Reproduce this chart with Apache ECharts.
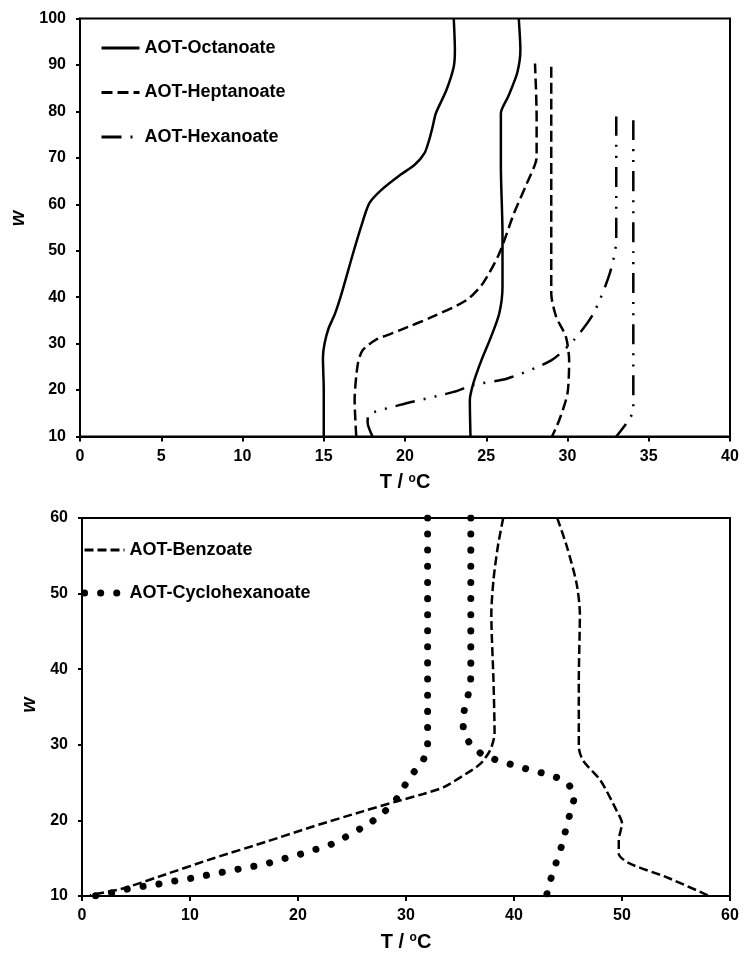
<!DOCTYPE html>
<html>
<head>
<meta charset="utf-8">
<script src="https://cdn.jsdelivr.net/npm/echarts@6/dist/echarts.min.js"></script>
<style>
  html, body { margin: 0; padding: 0; background: #fff; }
  #chart { width: 745px; height: 953px; }
</style>
</head>
<body>
<div id="chart"></div>
<script>
// Phase boundaries, w vs. temperature (T / °C), each compound has two branches.

// Upper panel: linear carboxylates
const octanoateLow = [[15,10],[15,20],[14.95,27],[15.05,30],[15.3,33.3],[15.7,36.5],[16.1,40.8],[16.8,49.4],[17.3,55.2],[17.8,60.2],[18.55,63.1],[19.7,66.3],[20.6,68.5],[21.2,71.0],[21.5,74],[21.7,76.7],[21.9,79.6],[22.55,84.6],[23.0,89.6],[23.07,93.2],[23.0,100]];
const octanoateHigh = [[24.03,10],[23.99,17.8],[24.2,21.4],[24.7,26.4],[25.3,31.5],[25.8,36.5],[26.0,42.2],[26.0,53.7],[25.9,68.1],[25.9,79.6],[26.35,83.2],[26.9,88.2],[27.1,93.2],[27.0,100]];
const heptanoateLow = [[17.0,10],[16.9,17.8],[17.1,25.7],[17.4,28.6],[18.2,30.8],[19.7,32.9],[21.7,35.8],[23.8,39.4],[24.8,43.0],[25.8,49.4],[26.7,58.0],[27.5,64.5],[28.1,70.2],[28.1,78.9],[28.0,90.3]];
const heptanoateHigh = [[29.0,89.6],[29.0,60],[29.0,40.8],[29.3,35.8],[29.9,31.5],[30.1,26.4],[30.0,19.3],[29.5,13.6],[29.05,10]];
const hexanoateLow = [[18.0,10],[17.7,13],[17.75,14.6],[19.7,16.8],[23.0,19.6],[24.2,21.1],[26.3,22.5],[29.0,26.4],[30.4,30.8],[31.6,36.5],[32.6,45.1],[33.0,52.3],[33.0,60.9],[33.0,78.9]];
const hexanoateHigh = [[34.05,78.1],[34.05,50],[34.05,15.7],[33.7,13.2],[33.0,10]];

// Lower panel: cyclic carboxylates
const benzoateLow = [[39.0,60],[38.5,56.2],[38.1,51.8],[37.9,47.3],[38.1,38.5],[38.2,31.5],[37.8,29.3],[36.9,27.5],[35.6,26.2],[33.5,24.4],[31.6,23.5],[29.1,22.5],[26.0,21.2],[21.4,19.2],[17.1,17.2],[12.2,15.0],[7.2,12.6],[3.8,11.0],[0.74,10.1]];
const benzoateHigh = [[44.0,60],[44.9,56.2],[45.8,51.3],[46.1,47.3],[46.0,38.5],[46.0,29.7],[46.4,27.9],[48.0,25.3],[49.5,21.3],[50.0,19.6],[49.7,17.4],[49.7,15.6],[50.7,14.3],[54.1,12.5],[58.1,10]];
const cyclohexanoateLow = [[32.0,60],[32.0,45],[32.0,29.7],[31.45,27.6],[30.5,26.0],[29.7,24.2],[28.9,22.4],[27.8,20.9],[26.7,19.7],[25.4,18.6],[24.0,17.5],[22.7,16.6],[21.2,16.0],[19.7,15.3],[18.3,14.8],[16.9,14.2],[15.4,13.8],[13.9,13.4],[12.5,13.0],[11.0,12.6],[9.6,12.2],[8.2,11.9],[6.8,11.5],[5.3,11.2],[3.8,10.8],[2.4,10.3],[1.05,10.0]];
const cyclohexanoateHigh = [[36.0,60],[36.0,39],[35.8,36.9],[35.4,34.6],[35.3,32.4],[35.9,30.2],[37.1,28.7],[38.6,27.9],[40.2,27.2],[41.7,26.6],[43.3,26.0],[44.8,25.1],[45.6,23.3],[45.2,21.0],[44.8,18.8],[44.4,16.6],[43.9,14.4],[43.4,12.2],[43.0,10]];

const topXTicks = { min: 0, max: 40, interval: 5 };
const topYTicks = { min: 10, max: 100, interval: 10 };
const bottomXTicks = { min: 0, max: 60, interval: 10 };
const bottomYTicks = { min: 10, max: 60, interval: 10 };

const FONT = "'Liberation Sans', Arial, sans-serif";

const styles = {
  solid:    { type: 'solid', width: 2.5 },
  dashed:   { type: [11, 5], width: 2.5 },
  dashDot:  { type: [20, 9, 2, 9, 2, 9], width: 2.5 },
  shortDash:{ type: [9, 4], width: 2.5 },
  dots:     { type: [0.1, 16], width: 7, cap: 'round' }
};

function curve(name, data, idx, style) {
  return {
    name: name,
    type: 'line',
    xAxisIndex: idx,
    yAxisIndex: idx,
    data: data,
    showSymbol: false,
    symbol: 'none',
    smooth: 0.25,
    clip: true,
    color: '#000',
    lineStyle: Object.assign({ color: '#000' }, style),
    animation: false
  };
}

function xAxis(idx, ticks) {
  return {
    type: 'value', gridIndex: idx,
    min: ticks.min, max: ticks.max, interval: ticks.interval,
    name: 'T / {sup|o}C', nameLocation: 'middle', nameGap: 36,
    nameTextStyle: {
      fontFamily: FONT, fontWeight: 'bold', fontSize: 20, color: '#000',
      rich: { sup: { fontFamily: FONT, fontWeight: 'bold', fontSize: 12, color: '#000', verticalAlign: 'top', lineHeight: 12 } }
    },
    axisLine: { show: true, onZero: false, lineStyle: { color: '#000', width: 2 } },
    axisTick: { show: true, inside: false, length: 5, lineStyle: { color: '#000', width: 2 } },
    axisLabel: { fontFamily: FONT, fontWeight: 'bold', fontSize: 16, color: '#000', margin: 12 },
    splitLine: { show: false }
  };
}

function yAxis(idx, ticks, gap, shift) {
  return {
    type: 'value', gridIndex: idx,
    min: ticks.min, max: ticks.max, interval: ticks.interval,
    name: 'w', nameLocation: 'middle', nameGap: gap, nameRotate: 90,
    nameTextStyle: { fontFamily: FONT, fontWeight: 'bold', fontStyle: 'italic', fontSize: 20, color: '#000', padding: [0, 0, 0, shift] },
    axisLine: { show: true, onZero: false, lineStyle: { color: '#000', width: 2 } },
    axisTick: { show: true, inside: false, length: 4, lineStyle: { color: '#000', width: 2 } },
    axisLabel: { fontFamily: FONT, fontWeight: 'bold', fontSize: 16, color: '#000', margin: 14 },
    splitLine: { show: false }
  };
}

const legendText = { fontFamily: FONT, fontWeight: 'bold', fontSize: 18, lineHeight: 18, color: '#000' };

const option = {
  backgroundColor: '#fff',
  animation: false,
  grid: [
    { left: 80, right: 15, top: 18.5, height: 418, show: true, borderColor: '#000', borderWidth: 2, backgroundColor: 'transparent' },
    { left: 82, right: 15, top: 518, height: 378, show: true, borderColor: '#000', borderWidth: 2, backgroundColor: 'transparent' }
  ],
  xAxis: [xAxis(0, topXTicks), xAxis(1, bottomXTicks)],
  yAxis: [yAxis(0, topYTicks, 48, 18), yAxis(1, bottomYTicks, 38, 4)],
  legend: [
    {
      orient: 'vertical', left: 95, top: 34, itemWidth: 38, itemHeight: 14, itemGap: 26.5,
      textStyle: legendText,
      itemStyle: { opacity: 0 },
      lineStyle: { width: 3 },
      data: ['AOT-Octanoate', 'AOT-Heptanoate', 'AOT-Hexanoate']
    },
    {
      orient: 'vertical', left: 76, top: 536, itemWidth: 40, itemHeight: 14, itemGap: 25,
      textStyle: legendText,
      itemStyle: { opacity: 0 },
      data: [
        { name: 'AOT-Benzoate', lineStyle: { width: 3, type: [9, 4], color: '#000' } },
        { name: 'AOT-Cyclohexanoate', lineStyle: { width: 7, type: [0.1, 16], cap: 'round', color: '#000' } }
      ]
    }
  ],
  series: [
    curve('AOT-Octanoate', octanoateLow, 0, styles.solid),
    curve('AOT-Octanoate', octanoateHigh, 0, styles.solid),
    curve('AOT-Heptanoate', heptanoateLow, 0, styles.dashed),
    curve('AOT-Heptanoate', heptanoateHigh, 0, styles.dashed),
    curve('AOT-Hexanoate', hexanoateLow, 0, styles.dashDot),
    curve('AOT-Hexanoate', hexanoateHigh, 0, styles.dashDot),
    curve('AOT-Benzoate', benzoateLow, 1, styles.shortDash),
    curve('AOT-Benzoate', benzoateHigh, 1, styles.shortDash),
    curve('AOT-Cyclohexanoate', cyclohexanoateLow, 1, styles.dots),
    curve('AOT-Cyclohexanoate', cyclohexanoateHigh, 1, styles.dots)
  ]
};

const chart = echarts.init(document.getElementById('chart'), null, { renderer: 'canvas' });
chart.setOption(option);
</script>
</body>
</html>
